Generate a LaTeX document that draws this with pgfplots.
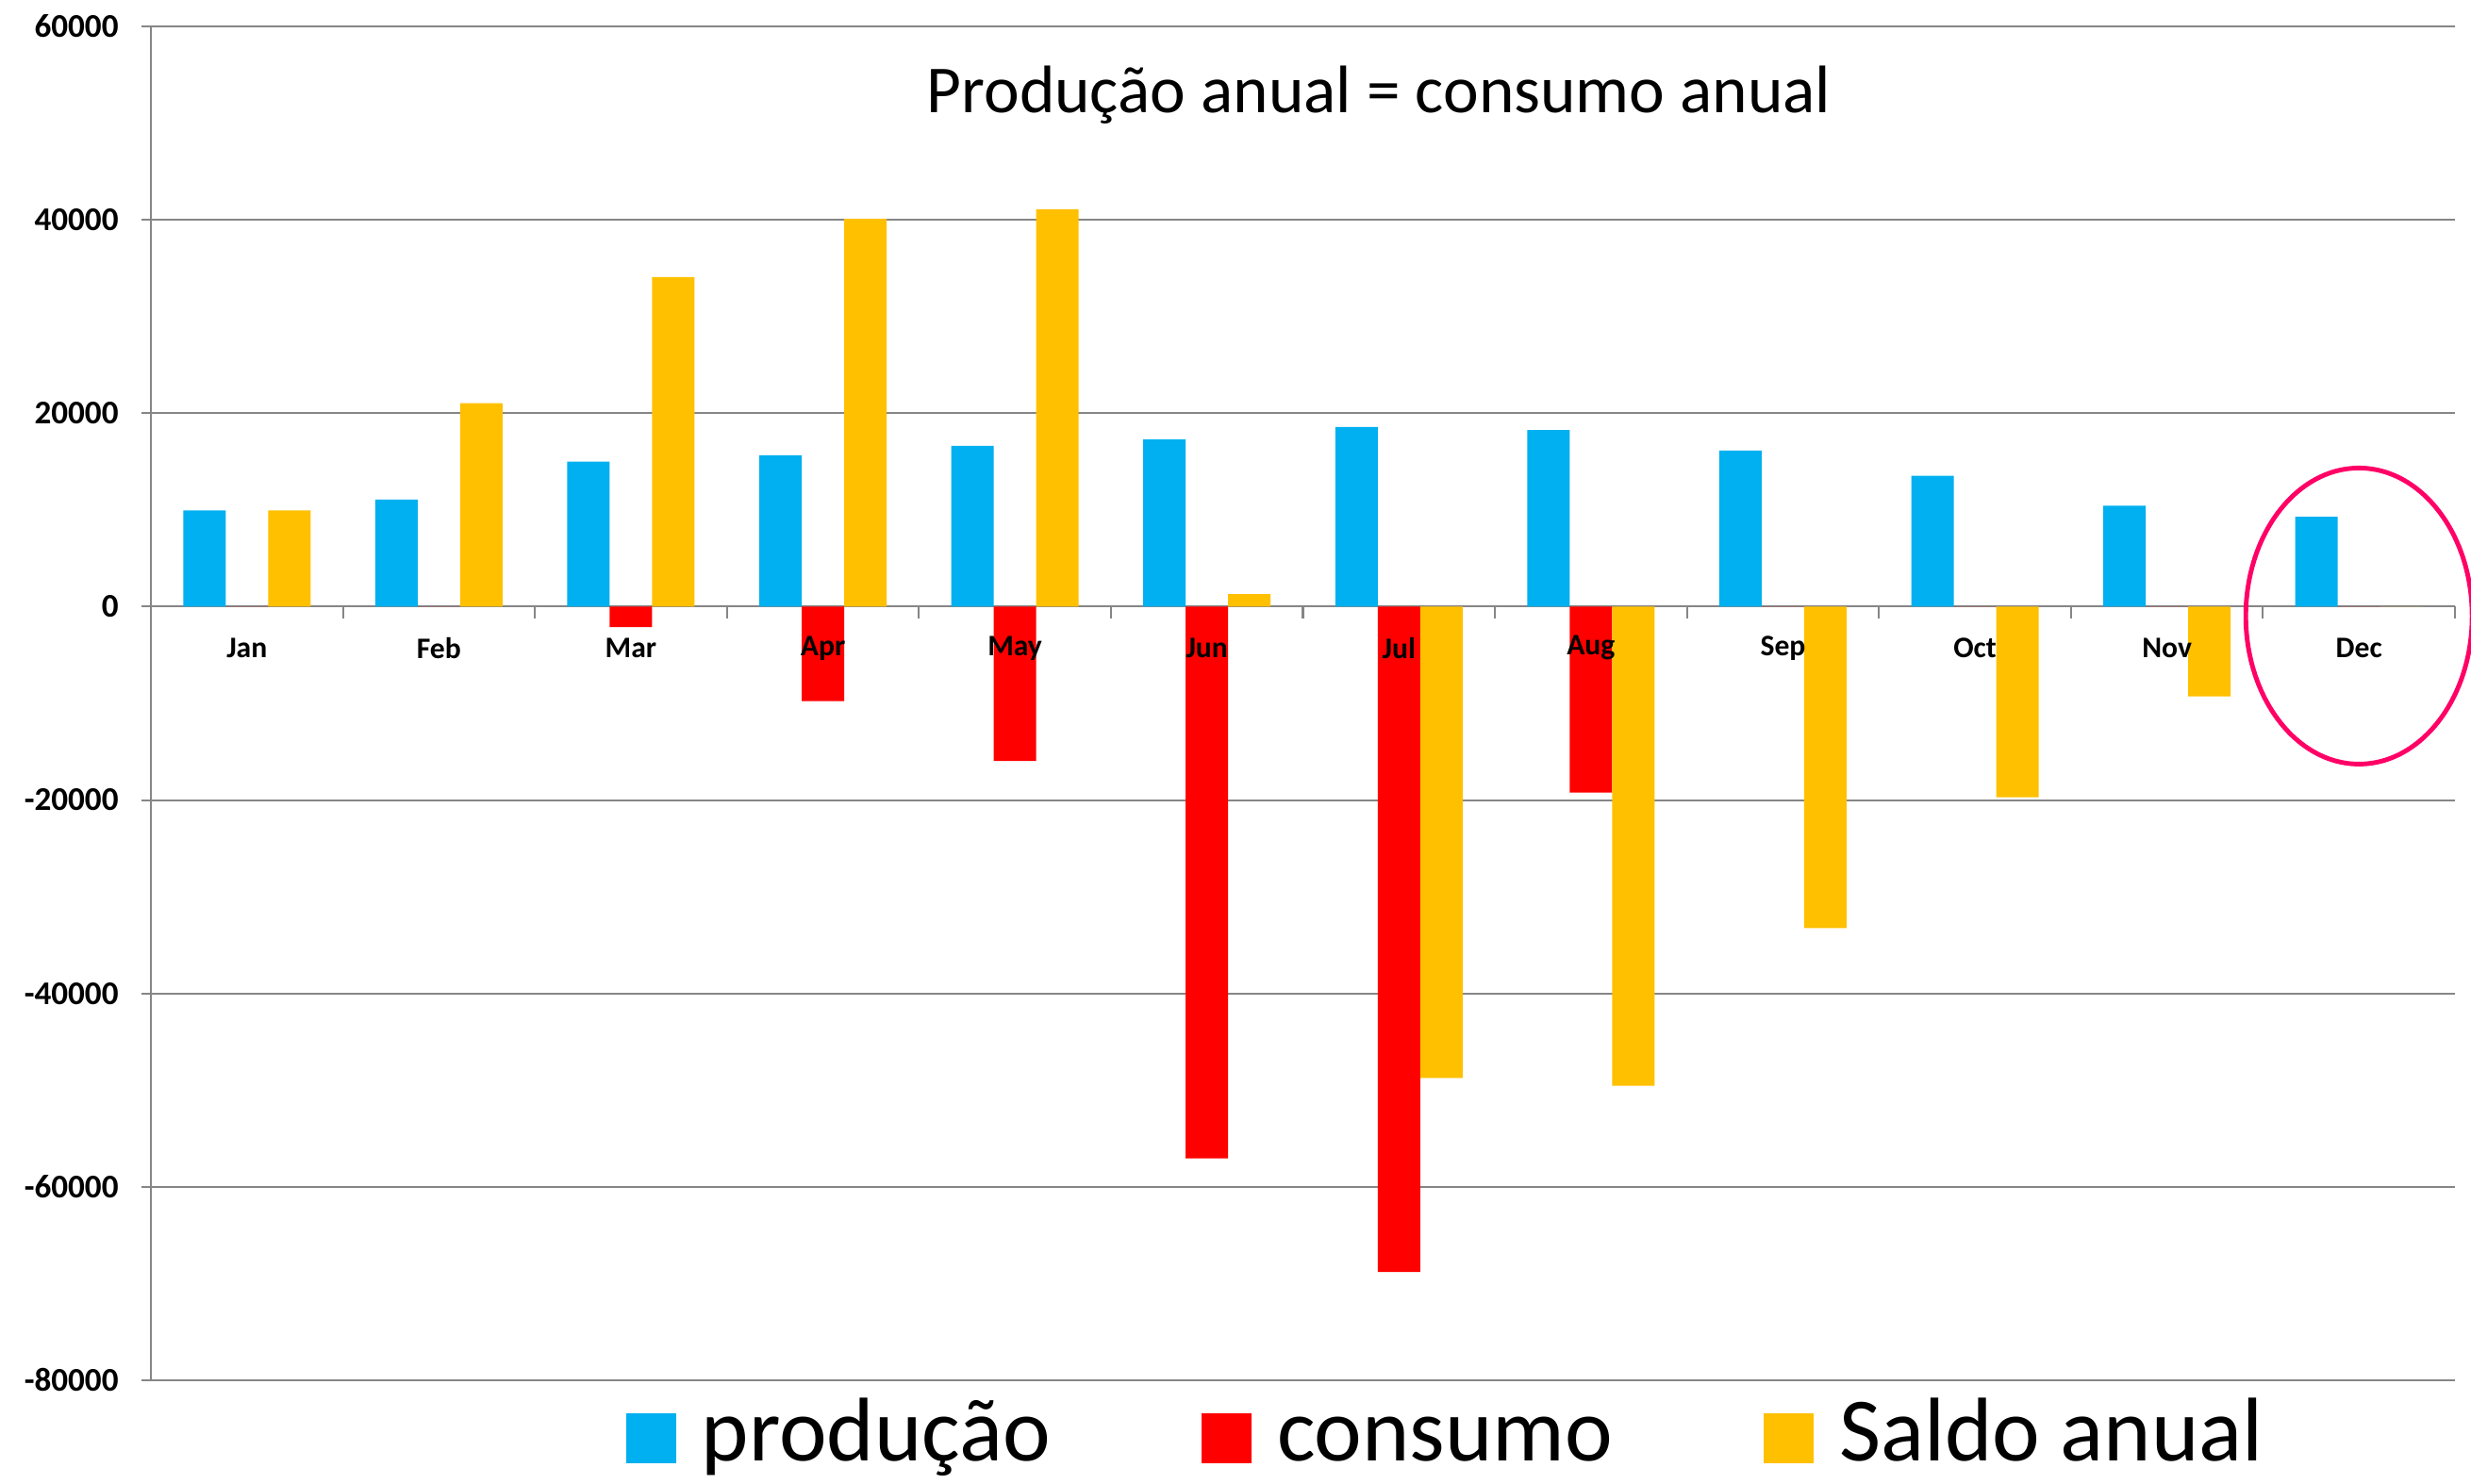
\documentclass[border=0pt]{standalone}
\usepackage{fontspec}
\setmainfont{Carlito}
\usepackage{pgfplots}
\usepackage{pgfplotstable}
\pgfplotsset{compat=1.18}
\definecolor{prodblue}{RGB}{0,176,240}
\definecolor{consred}{RGB}{255,0,0}
\definecolor{saldoyel}{RGB}{255,192,0}
\definecolor{gridgray}{RGB}{134,134,134}
\definecolor{ringpink}{RGB}{255,0,102}

% monthly values
\pgfplotstableread{
m  prod   cons    saldo
1  9950   0       9950
2  11080  0       21030
3  15000  -2120   34070
4  15650  -9780   40100
5  16630  -15970  41080
6  17280  -57050  1300
7  18580  -68790  -48740
8  18260  -19230  -49550
9  16140  0       -33250
10 13530  0       -19720
11 10430  0       -9290
12 9290   0       0
}\datatable

\begin{document}
\begin{tikzpicture}
\begin{axis}[
  name=ax,
  set layers,
  width=24.43cm, height=14.36cm, scale only axis,
  xmin=0.5, xmax=12.5, ymin=-80000, ymax=60000,
  ybar=0pt, bar width=0.45cm,
  axis x line=middle, axis y line=left,
  axis line style={-, draw=gridgray, line width=0.6pt},
  xtick={1,2,3,4,5,6,7,8,9,10,11,12},
  xticklabels={Jan,Feb,Mar,Apr,May,Jun,Jul,Aug,Sep,Oct,Nov,Dec},
  major x tick style={draw=none},
  xticklabel style={font=\fontsize{9}{10}\selectfont\bfseries, anchor=center,
    yshift=-0.34cm, /pgfplots/on layer=axis foreground},
  ytick={-80000,-60000,-40000,-20000,0,20000,40000,60000},
  yticklabels={-80000,-60000,-40000,-20000,0,20000,40000,60000},
  yticklabel style={font=\fontsize{10}{12}\selectfont\bfseries, xshift=-0.12cm},
  ymajorgrids, grid style={gridgray, line width=0.6pt},
  tick align=outside, major tick length=0.1cm,
  y tick style={gridgray, line width=0.6pt},
  clip=false,
  legend columns=3,
  legend style={at={(0.206,-0.036)}, anchor=west, draw=none, fill=none,
    inner sep=0pt, font=\fontsize{27.3}{30}\selectfont,
    /tikz/every even column/.append style={column sep=1.53cm}},
  legend image code/.code={\fill[#1] (0cm,-0.365cm) rectangle (0.53cm,0.165cm);
    \path (0.73cm,-0.1cm);},
]
\addplot[fill=prodblue, draw=none] table[x=m, y=prod] {\datatable};
\addplot[fill=consred, draw=none] table[x=m, y=cons] {\datatable};
\addplot[fill=saldoyel, draw=none] table[x=m, y=saldo] {\datatable};
\legend{\strut produção, \strut consumo, \strut Saldo anual}

% category boundary ticks on the zero line
\pgfplotsinvokeforeach{0.5,1.5,2.5,3.5,4.5,5.5,6.5,7.5,8.5,9.5,10.5,11.5,12.5}{
  \draw[gridgray, line width=0.6pt] (axis cs:#1,0) -- ([yshift=-0.13cm]axis cs:#1,0);
}

\node[font=\fontsize{20.3}{24}\selectfont] at (rel axis cs:0.533,0.9495) {Produção anual = consumo anual};

% highlight ring around December
\draw[ringpink, line width=1.4pt] (axis cs:12,-975) ellipse [x radius=1.20cm, y radius=1.57cm];
\end{axis}
\pgfresetboundingbox
\path[use as bounding box] ([xshift=-1.60cm,yshift=-1.10cm]ax.south west) rectangle ([xshift=0.17cm,yshift=0.28cm]ax.north east);
\end{tikzpicture}
\end{document}
